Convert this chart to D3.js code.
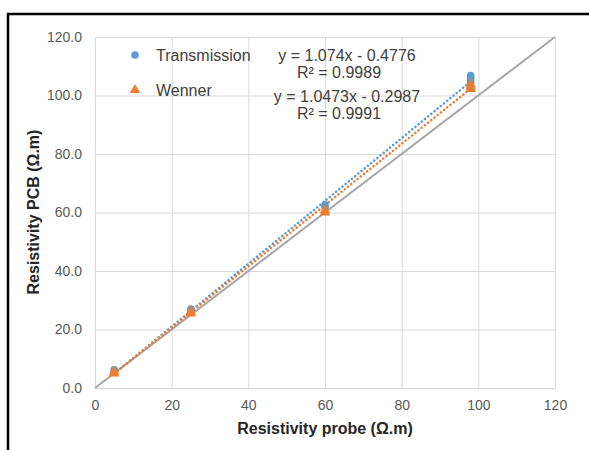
<!DOCTYPE html>
<html>
<head>
<meta charset="utf-8">
<script src="https://cdn.jsdelivr.net/npm/d3@7"></script>
<style>
body{margin:0;background:#fff;}
svg{display:block;font-family:"Liberation Sans",Arial,sans-serif;}
</style>
</head>
<body>
<svg id="chart" width="589" height="450"></svg>
<script>
// Data
const xTicks = [0, 20, 40, 60, 80, 100, 120];
const yTicks = [0, 20, 40, 60, 80, 100, 120];
const transX = [5, 5, 25, 25, 60, 60, 98, 98, 98, 98];
const transY = [5.6, 6.2, 26.3, 27.0, 61.8, 62.6, 104.3, 105.2, 106.0, 106.8];
const wennerX = [5, 5, 25, 25, 60, 60, 98, 98, 98];
const wennerY = [5.0, 5.6, 25.5, 26.1, 60.0, 60.8, 102.2, 103.0, 103.8];
const seriesNames = ["Transmission", "Wenner"];
const trendSlope = [1.074, 1.0473];
const trendIntercept = [-0.4776, -0.2987];
const trendRange = [5, 98];
const equations = ["y = 1.074x - 0.4776", "y = 1.0473x - 0.2987"];
const r2Labels = ["R² = 0.9989", "R² = 0.9991"];
const colors = ["#5b9bd5", "#ed7d31"];

const svg = d3.select("#chart");
svg.append("rect").attr("x", 8).attr("y", 14).attr("width", 600).attr("height", 450)
  .attr("fill", "#fff").attr("stroke", "#000").attr("stroke-width", 2.5);

const x = d3.scaleLinear().domain([0, 120]).range([95, 555]);
const y = d3.scaleLinear().domain([0, 120]).range([388, 37]);

// Gridlines
const g = svg.append("g");
g.selectAll(".vg").data(xTicks).enter().append("line")
  .attr("x1", d => x(d) + 0.5).attr("x2", d => x(d) + 0.5)
  .attr("y1", y(0)).attr("y2", y(120))
  .attr("stroke", "#d9d9d9").attr("stroke-width", 1);
g.selectAll(".hg").data(yTicks).enter().append("line")
  .attr("x1", x(0)).attr("x2", x(120))
  .attr("y1", d => y(d) + 0.5).attr("y2", d => y(d) + 0.5)
  .attr("stroke", "#d9d9d9").attr("stroke-width", 1);

// Axes (labels only)
const xAxis = d3.axisBottom(x).tickValues(xTicks).tickSize(0).tickPadding(12).tickFormat(d3.format("d"));
const yAxis = d3.axisLeft(y).tickValues(yTicks).tickSize(0).tickPadding(13).tickFormat(d3.format(".1f"));
const gx = svg.append("g").attr("transform", `translate(0,${y(0)})`).call(xAxis);
const gy = svg.append("g").attr("transform", `translate(${x(0)},0)`).call(yAxis);
[gx, gy].forEach(a => {
  a.select(".domain").remove();
  a.selectAll("text").attr("fill", "#595959").style("font-size", "14px").style("font-family", "Liberation Sans, Arial, sans-serif");
});

// y = x line
svg.append("line")
  .attr("x1", x(0)).attr("y1", y(0)).attr("x2", x(120)).attr("y2", y(120))
  .attr("stroke", "#a6a6a6").attr("stroke-width", 2);

// Trendlines
[0, 1].forEach(i => {
  svg.append("line")
    .attr("x1", x(trendRange[0])).attr("y1", y(trendSlope[i] * trendRange[0] + trendIntercept[i]))
    .attr("x2", x(trendRange[1])).attr("y2", y(trendSlope[i] * trendRange[1] + trendIntercept[i]))
    .attr("stroke", colors[i]).attr("stroke-width", 2.5)
    .attr("stroke-dasharray", "0.1 4").attr("stroke-linecap", "round");
});

// Points
const tri = d3.symbol().type(d3.symbolTriangle).size(48);
svg.append("g").selectAll("circle").data(transX.map((d, i) => [d, transY[i]])).enter()
  .append("circle").attr("cx", d => x(d[0])).attr("cy", d => y(d[1])).attr("r", 3.8)
  .attr("fill", colors[0]);
svg.append("g").selectAll("path").data(wennerX.map((d, i) => [d, wennerY[i]])).enter()
  .append("path").attr("d", tri).attr("transform", d => `translate(${x(d[0])},${y(d[1])})`)
  .attr("fill", colors[1]);

// Legend
const leg = svg.append("g");
leg.append("circle").attr("cx", 135).attr("cy", 55).attr("r", 3.8).attr("fill", colors[0]);
leg.append("path").attr("d", tri).attr("transform", "translate(135,90)").attr("fill", colors[1]);
leg.selectAll("text").data(seriesNames).enter().append("text")
  .attr("x", 156).attr("y", (d, i) => 61 + i * 35)
  .attr("fill", "#404040").style("font-size", "16px").text(d => d);

// Equations
const eq = svg.append("g").attr("fill", "#404040").style("font-size", "16px").attr("text-anchor", "middle");
[0, 1].forEach(i => {
  eq.append("text").attr("x", 347).attr("y", 61 + i * 41).text(equations[i]);
  eq.append("text").attr("x", 339).attr("y", 78 + i * 41).text(r2Labels[i]);
});

// Axis titles
svg.append("text").attr("x", 325).attr("y", 434).attr("text-anchor", "middle")
  .attr("fill", "#262626").style("font-size", "16px").style("font-weight", "bold")
  .text("Resistivity probe (Ω.m)");
svg.append("text").attr("transform", "translate(39,212) rotate(-90)").attr("text-anchor", "middle")
  .attr("fill", "#262626").style("font-size", "16px").style("font-weight", "bold")
  .text("Resistivity PCB (Ω.m)");
</script>
</body>
</html>
